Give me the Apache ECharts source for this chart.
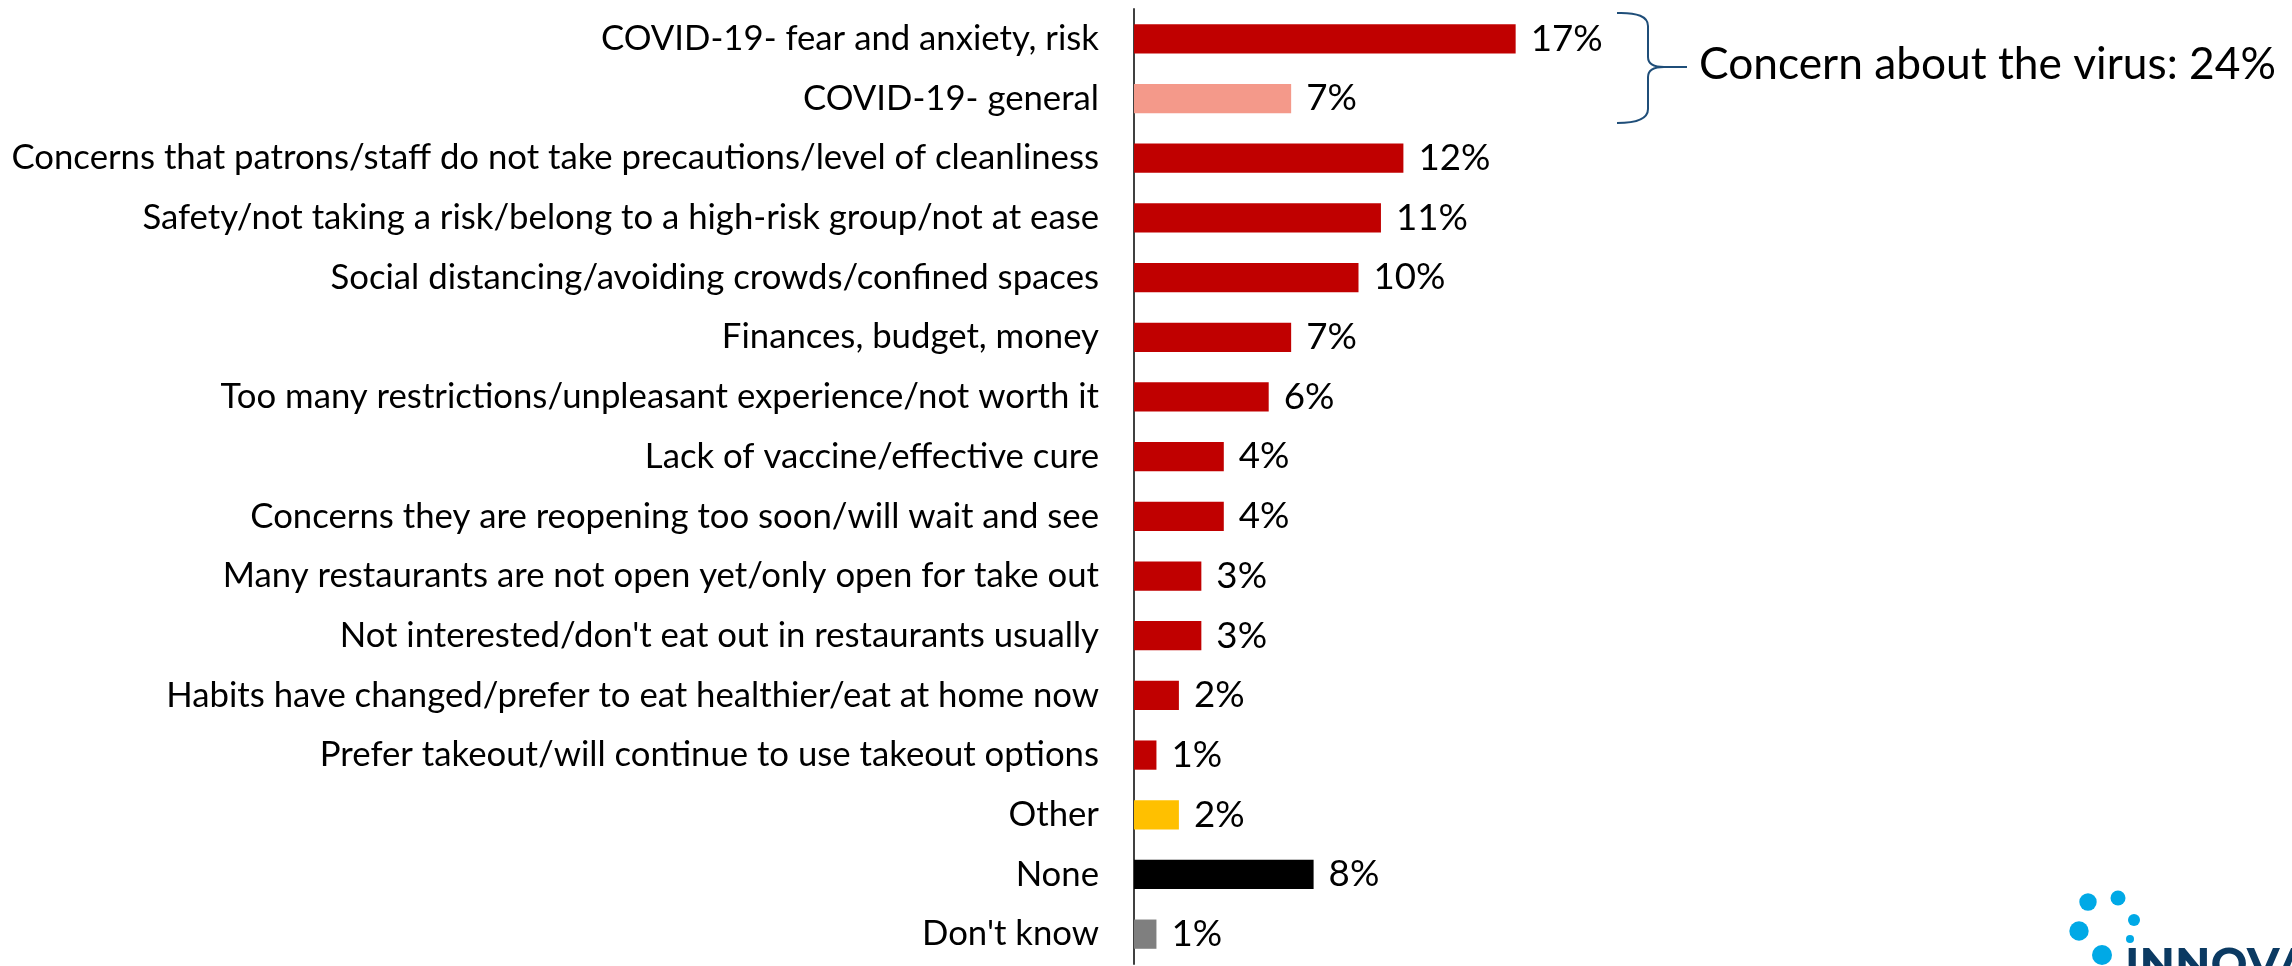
<!DOCTYPE html>
<html>
<head>
<meta charset="utf-8">
<title>Reasons for not returning to restaurants</title>
<script src="https://cdn.jsdelivr.net/npm/echarts@6/dist/echarts.min.js"></script>
<style>
  html, body { margin: 0; padding: 0; background: #ffffff; }
  #chart { width: 2292px; height: 966px; }
</style>
</head>
<body>
<div id="chart"></div>
<script>
// Survey reasons, in display order (top to bottom)
const categories = [
  'COVID-19- fear and anxiety, risk',
  'COVID-19- general',
  'Concerns that patrons/staff do not take precautions/level of cleanliness',
  'Safety/not taking a risk/belong to a high-risk group/not at ease',
  'Social distancing/avoiding crowds/confined spaces',
  'Finances, budget, money',
  'Too many restrictions/unpleasant experience/not worth it',
  'Lack of vaccine/effective cure',
  'Concerns they are reopening too soon/will wait and see',
  'Many restaurants are not open yet/only open for take out',
  "Not interested/don't eat out in restaurants usually",
  'Habits have changed/prefer to eat healthier/eat at home now',
  'Prefer takeout/will continue to use takeout options',
  'Other',
  'None',
  "Don't know"
];

// Share of respondents (%)
const values = [17, 7, 12, 11, 10, 7, 6, 4, 4, 3, 3, 2, 1, 2, 8, 1];

// Combined virus-related share shown in the bracket note
const virusConcernTotal = 24;

// Bar fill for each reason
const barColors = [
  '#C00000', '#F4998A', '#C00000', '#C00000', '#C00000', '#C00000', '#C00000', '#C00000',
  '#C00000', '#C00000', '#C00000', '#C00000', '#C00000', '#FFC000', '#000000', '#7F7F7F'
];

const FONT = 'Lato';

// Pick a font size so a string spans the requested width
function fitSize(text, target, weight) {
  const ctx = document.createElement('canvas').getContext('2d');
  ctx.font = (weight || 'normal') + ' 100px ' + FONT;
  return 100 * target / ctx.measureText(text).width;
}

const longest = categories.reduce((a, b) => (b.length > a.length ? b : a));
const catSize = fitSize(longest, 1088);
const valSize = fitSize('17%', 72);
const noteText = 'Concern about the virus: ' + virusConcernTotal + '%';
const noteSize = fitSize(noteText, 577);

// Curly bracket pieces
const braceStyle = { stroke: '#1F4E79', lineWidth: 2, fill: 'none' };
function curve(x1, y1, cx, cy, x2, y2) {
  return { type: 'bezierCurve', shape: { x1, y1, cpx1: cx, cpy1: cy, x2, y2 }, style: braceStyle };
}
function seg(x1, y1, x2, y2) {
  return { type: 'line', shape: { x1, y1, x2, y2 }, style: braceStyle };
}
const brace = [
  curve(1617, 13, 1648, 12, 1648, 26),
  seg(1648, 26, 1648, 57),
  curve(1648, 57, 1648, 67, 1664, 67),
  seg(1664, 67, 1687, 67),
  curve(1664, 67, 1648, 67, 1648, 77),
  seg(1648, 77, 1648, 109),
  curve(1648, 109, 1648, 123, 1617, 123)
];

const logoBlue = '#00A9E6';
const logoDots = [
  [2088, 902, 8.7], [2118, 898, 7.5], [2134, 920, 6],
  [2079, 931, 9.7], [2130, 939, 4], [2102, 955, 10]
].map(d => ({ type: 'circle', shape: { cx: d[0], cy: d[1], r: d[2] }, style: { fill: logoBlue } }));

const chart = echarts.init(document.getElementById('chart'), null, { renderer: 'canvas' });

chart.setOption({
  animation: false,
  backgroundColor: '#ffffff',
  grid: { left: 1134, top: 9, bottom: 2, width: 449, containLabel: false },
  xAxis: {
    type: 'value',
    min: 0,
    max: 20,
    show: false
  },
  yAxis: {
    type: 'category',
    inverse: true,
    data: categories,
    axisLine: { show: true, lineStyle: { color: '#404040', width: 2 } },
    axisTick: { show: false },
    axisLabel: {
      margin: 35,
      fontFamily: FONT,
      fontSize: catSize,
      color: '#000000'
    },
    splitLine: { show: false }
  },
  series: [{
    type: 'bar',
    barWidth: '49%',
    data: values.map((v, i) => ({ value: v, itemStyle: { color: barColors[i] } })),
    label: {
      show: true,
      position: 'right',
      distance: 15,
      formatter: '{c}%',
      fontFamily: FONT,
      fontSize: valSize,
      color: '#000000'
    }
  }],
  graphic: brace.concat([
    {
      type: 'text',
      left: 1699,
      top: 69 - noteSize * 0.6,
      style: {
        text: noteText,
        fontFamily: FONT,
        fontSize: noteSize,
        fill: '#000000'
      }
    }
  ], logoDots, [
    {
      type: 'text',
      left: 2125,
      top: 944,
      style: {
        text: 'INNOVATIVE',
        fontFamily: 'Montserrat, Lato, sans-serif',
        fontWeight: 'bold',
        fontSize: 44,
        fill: '#0B3A62'
      }
    }
  ])
});
</script>
</body>
</html>
